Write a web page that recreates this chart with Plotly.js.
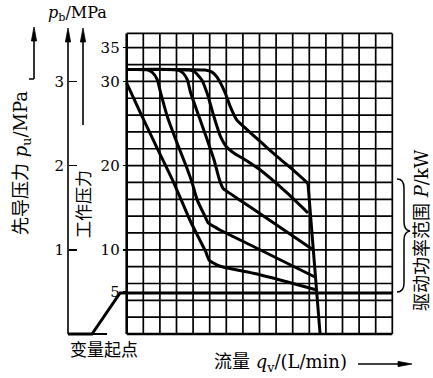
<!DOCTYPE html>
<html><head><meta charset="utf-8">
<script src="https://cdn.plot.ly/plotly-3.0.1.min.js"></script>
<style>html,body{margin:0;padding:0;background:#fff;}#chart{width:433px;height:378px;}</style>
</head><body><div id="chart"></div>
<script>
// ---- data (flow in grid units, working pressure in MPa) ----
const flowA = [0, 0.84, 1.84, 2.85, 3.86, 4.76, 4.96, 5.46, 5.86, 7.63, 9.64, 11.45];
const presA = [29.8, 26.2, 22.05, 17.9, 13.3, 9.77, 8.79, 8.19, 7.92, 7.21, 6.21, 5.23];
const flowB = [0, 1.28, 1.58, 1.84, 2.05, 2.45, 3.05, 3.55, 3.95, 4.25, 4.76, 4.90, 5.62, 7.42, 11.34];
const presB = [31.4, 31.35, 31.0, 30.2, 28.6, 25.8, 22.6, 20.1, 17.9, 15.9, 13.8, 13.2, 12.35, 10.6, 6.77];
const flowC = [0, 3.09, 3.39, 3.65, 3.86, 4.36, 4.86, 5.26, 5.56, 5.8, 6.22, 7.42, 11.16];
const presC = [31.4, 31.35, 31.0, 30.2, 28.6, 25.8, 23.0, 20.7, 18.5, 17.3, 16.7, 15.1, 10.1];
const flowD = [0, 3.81, 4.11, 4.52, 4.86, 5.26, 5.66, 5.98, 6.52, 7.13, 8.03, 9.66, 10.92];
const presD = [31.4, 31.35, 31.1, 30.2, 28.5, 25.77, 23.4, 22.3, 21.4, 20.7, 19.5, 16.75, 14.37];
const flowE = [0, 4.72, 5.14, 5.44, 5.92, 6.22, 6.64, 7.12, 8.02, 9.05, 10.02, 10.92];
const presE = [31.4, 31.35, 31.1, 30.5, 28.7, 27.1, 25.4, 24.5, 22.9, 21.1, 19.5, 17.9];
const flowCut = [10.92, 11.65];
const presCut = [17.9, 0];
const flowPilot = [-3.54, -2.09, -0.40, 16];
const presPilot = [0, 0, 4.87, 4.87];
const workTickVals = [5, 10, 20, 30, 34];
const workTickText = ['5', '10', '20', '30', '35'];
const pilotTickVals = [1, 2, 3];
const pilotTickText = ['1', '2', '3'];

// ---- layout geometry (pixel mapping) ----
const W = 433, H = 378;
const X0PX = 126.7, XSTEP = 16.6, Y0PX = 334, YSTEP = 8.42;
const xr = [-X0PX / XSTEP, (W - X0PX) / XSTEP];
const yr = [(Y0PX - H) / YSTEP, Y0PX / YSTEP];
const px = x => (x - X0PX) / XSTEP;
const py = y => (Y0PX - y) / YSTEP;

const serif = 'DejaVu Serif, Noto Sans CJK SC, serif';
const lineStyle = {color: '#000', width: 3, shape: 'spline', smoothing: 0.5};
function tr(x, y, extra) {
  return Object.assign({x: x, y: y, type: 'scatter', mode: 'lines', line: Object.assign({}, lineStyle), hoverinfo: 'skip'}, extra || {});
}
const data = [
  tr(flowA, presA), tr(flowB, presB), tr(flowC, presC), tr(flowD, presD), tr(flowE, presE),
  tr(flowCut, presCut, {line: {color: '#000', width: 3}}),
  tr(flowPilot, presPilot, {line: {color: '#000', width: 3}}),
  {x: [], y: [], type: 'scatter', mode: 'lines', yaxis: 'y2', hoverinfo: 'skip'}
];

const shapes = [];
const GX = 16, GTOP = 35.7;
for (let i = 0; i <= GX; i++) {
  shapes.push({type: 'line', xref: 'x', yref: 'y', x0: i, x1: i, y0: 0, y1: GTOP,
    line: {color: '#000', width: (i === 0 ? 2.6 : 1.7)}});
}
for (let j = 0; j <= 34; j += 2) {
  shapes.push({type: 'line', xref: 'x', yref: 'y', x0: 0, x1: GX, y0: j, y1: j,
    line: {color: '#000', width: (j === 0 ? 2.6 : 1.7)}});
}
shapes.push({type: 'line', xref: 'x', yref: 'y', x0: 0, x1: GX, y0: GTOP, y1: GTOP, line: {color: '#000', width: 1.7}});
function seg(x1, y1, x2, y2, w) {
  shapes.push({type: 'line', xref: 'x', yref: 'y', x0: px(x1), x1: px(x2), y0: py(y1), y1: py(y2), line: {color: '#000', width: w}});
}
const bp = (x, y) => px(x) + ',' + py(y);
function arrowLine(x1, y1, x2, y2) {
  const dx = x2 - x1, dy = y2 - y1, L = Math.hypot(dx, dy), ux = dx / L, uy = dy / L;
  const hl = 14, hw = 2.6;
  const bx = x2 - ux * hl, by = y2 - uy * hl;
  seg(x1, y1, bx, by, 1.6);
  shapes.push({type: 'path', xref: 'x', yref: 'y', fillcolor: '#000', line: {color: '#000', width: 0.8},
    path: 'M' + bp(x2, y2) + ' L' + bp(bx - uy * hw, by + ux * hw) + ' L' + bp(bx + uy * hw, by - ux * hw) + ' Z'});
}
seg(68, 334, 107, 334, 1.8);
seg(29, 79, 34, 79, 1.5);
arrowLine(34, 79, 34, 27);
arrowLine(68, 334, 68, 28);
arrowLine(83, 125, 83, 28);
arrowLine(358, 364, 412, 364);
shapes.push({type: 'path', xref: 'x', yref: 'y', line: {color: '#000', width: 1.5},
  path: 'M' + bp(397, 179) + ' Q' + bp(404, 179) + ' ' + bp(404, 188) + ' L' + bp(404, 222) +
        ' Q' + bp(404, 230) + ' ' + bp(410, 231) + ' Q' + bp(404, 232) + ' ' + bp(404, 240) +
        ' L' + bp(404, 283) + ' Q' + bp(404, 292) + ' ' + bp(397, 292)});

function label(x, y, text, size, angle) {
  return {xref: 'x', yref: 'y', x: px(x), y: py(y), text: text, showarrow: false, textangle: angle || 0,
    xanchor: 'center', yanchor: 'middle', font: {family: serif, size: size, color: '#000'}};
}
const annotations = [
  label(77, 13, '<i>p</i><sub>b</sub>/MPa', 16),
  label(22, 163, '先导压力 <i>p</i><sub>u</sub>/MPa', 18, -90),
  label(84, 204, '工作压力', 17, -90),
  label(421, 230, '驱动功率范围 <i>P</i>/kW', 18, -90),
  label(104, 350, '变量起点', 17),
  label(280, 363, '流量 <i>q</i><sub>v</sub>/(L/min)', 18)
];

const layout = {
  width: W, height: H, margin: {l: 0, r: 0, t: 0, b: 0, pad: 0},
  paper_bgcolor: '#fff', plot_bgcolor: 'rgba(0,0,0,0)', showlegend: false,
  xaxis: {range: xr, visible: false, fixedrange: true},
  yaxis: {range: yr, anchor: 'free', position: X0PX / W, side: 'left', showgrid: false, zeroline: false, showline: false,
    tickmode: 'array', tickvals: workTickVals, ticktext: workTickText, ticks: 'outside', ticklen: 4, tickwidth: 1.5,
    tickcolor: '#000', tickfont: {family: serif, size: 15, color: '#000'}, fixedrange: true},
  yaxis2: {range: [yr[0] / 10, yr[1] / 10], overlaying: 'y', anchor: 'free', position: 68 / W, side: 'left',
    showgrid: false, zeroline: false, showline: false, tickmode: 'array', tickvals: pilotTickVals, ticktext: pilotTickText,
    ticks: 'inside', ticklen: 8, tickwidth: 1.5, tickcolor: '#000', ticklabelstandoff: 4,
    tickfont: {family: serif, size: 15, color: '#000'}, fixedrange: true},
  shapes: shapes, annotations: annotations
};
Plotly.newPlot('chart', data, layout, {staticPlot: true, displayModeBar: false});
</script></body></html>
